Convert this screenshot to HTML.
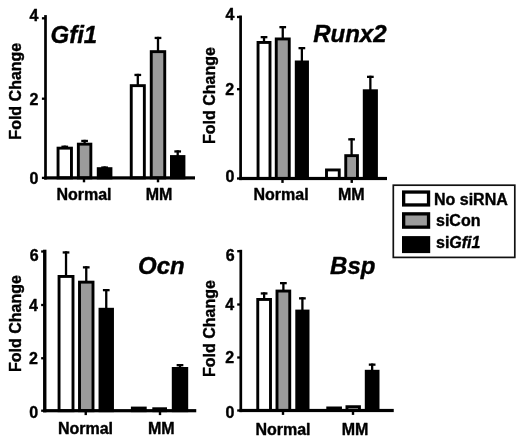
<!DOCTYPE html>
<html><head><meta charset="utf-8"><title>Fold change</title>
<style>
html,body{margin:0;padding:0;background:#fff;}
body{width:520px;height:436px;overflow:hidden;}
svg{display:block;filter:grayscale(1) blur(0.35px);}
text{font-family:"Liberation Sans",sans-serif;font-weight:bold;fill:#000;stroke:#000;stroke-width:0.4px;stroke-linejoin:round;}
.tk{font-size:16px;}
.xl{font-size:16px;}
.yl{font-size:16px;}
.tt{font-size:24px;font-style:italic;}
.lg{font-size:16px;}
</style></head><body>
<svg width="520" height="436" viewBox="0 0 520 436">
<rect x="0" y="0" width="520" height="436" fill="#fff"/>
<line x1="64.75" y1="145.60" x2="64.75" y2="147.70" stroke="#000" stroke-width="2.3"/><line x1="61.40" y1="146.75" x2="68.10" y2="146.75" stroke="#000" stroke-width="2.3"/><rect x="58.05" y="148.15" width="13.40" height="29.75" fill="#fff" stroke="#000" stroke-width="2.9"/>
<line x1="84.60" y1="139.80" x2="84.60" y2="143.70" stroke="#000" stroke-width="2.3"/><line x1="81.25" y1="140.95" x2="87.95" y2="140.95" stroke="#000" stroke-width="2.3"/><rect x="78.35" y="144.15" width="12.50" height="33.75" fill="#9b9b9b" stroke="#000" stroke-width="2.9"/>
<line x1="104.60" y1="166.40" x2="104.60" y2="168.20" stroke="#000" stroke-width="2.3"/><line x1="101.25" y1="167.55" x2="107.95" y2="167.55" stroke="#000" stroke-width="2.3"/><rect x="98.25" y="168.65" width="12.70" height="9.25" fill="#000" stroke="#000" stroke-width="2.9"/>
<line x1="137.80" y1="73.80" x2="137.80" y2="85.20" stroke="#000" stroke-width="2.3"/><line x1="134.45" y1="74.95" x2="141.15" y2="74.95" stroke="#000" stroke-width="2.3"/><rect x="131.25" y="85.65" width="13.10" height="92.25" fill="#fff" stroke="#000" stroke-width="2.9"/>
<line x1="158.00" y1="36.80" x2="158.00" y2="51.20" stroke="#000" stroke-width="2.3"/><line x1="154.65" y1="37.95" x2="161.35" y2="37.95" stroke="#000" stroke-width="2.3"/><rect x="151.25" y="51.65" width="13.50" height="126.25" fill="#9b9b9b" stroke="#000" stroke-width="2.9"/>
<line x1="177.70" y1="150.30" x2="177.70" y2="156.10" stroke="#000" stroke-width="2.3"/><line x1="174.35" y1="151.45" x2="181.05" y2="151.45" stroke="#000" stroke-width="2.3"/><rect x="171.45" y="156.55" width="12.50" height="21.35" fill="#000" stroke="#000" stroke-width="2.9"/>
<rect x="44.15" y="15.10" width="2.7" height="164.40" fill="#000"/>
<rect x="44.15" y="176.30" width="150.85" height="3.2" fill="#000"/>
<rect x="41.90" y="17.15" width="3.4" height="2.3" fill="#000"/><text x="38.40" y="20.80" text-anchor="end" class="tk">4</text>
<rect x="41.90" y="97.55" width="3.4" height="2.3" fill="#000"/><text x="38.40" y="104.70" text-anchor="end" class="tk">2</text>
<rect x="41.90" y="176.75" width="3.4" height="2.3" fill="#000"/><text x="38.40" y="183.60" text-anchor="end" class="tk">0</text>
<rect x="82.80" y="177.90" width="2.4" height="4.4" fill="#000"/><text x="84.00" y="199.50" text-anchor="middle" class="xl">Normal</text>
<rect x="156.80" y="177.90" width="2.4" height="4.4" fill="#000"/><text x="159.00" y="199.50" text-anchor="middle" class="xl">MM</text>
<text transform="translate(20.60,91.20) rotate(-90)" text-anchor="middle" class="yl">Fold Change</text>
<text x="50.50" y="42.50" class="tt">Gfi1</text>
<line x1="264.02" y1="36.00" x2="264.02" y2="42.00" stroke="#000" stroke-width="2.3"/><line x1="260.67" y1="37.15" x2="267.38" y2="37.15" stroke="#000" stroke-width="2.3"/><rect x="258.05" y="42.45" width="11.95" height="136.05" fill="#fff" stroke="#000" stroke-width="2.9"/>
<line x1="282.75" y1="26.00" x2="282.75" y2="38.50" stroke="#000" stroke-width="2.3"/><line x1="279.40" y1="27.15" x2="286.10" y2="27.15" stroke="#000" stroke-width="2.3"/><rect x="276.25" y="38.95" width="13.00" height="139.55" fill="#9b9b9b" stroke="#000" stroke-width="2.9"/>
<line x1="301.88" y1="47.00" x2="301.88" y2="61.50" stroke="#000" stroke-width="2.3"/><line x1="298.52" y1="48.15" x2="305.23" y2="48.15" stroke="#000" stroke-width="2.3"/><rect x="296.25" y="61.95" width="11.25" height="116.55" fill="#000" stroke="#000" stroke-width="2.9"/>
<rect x="326.50" y="169.95" width="12.75" height="8.55" fill="#fff" stroke="#000" stroke-width="2.9"/>
<line x1="351.60" y1="138.20" x2="351.60" y2="155.20" stroke="#000" stroke-width="2.3"/><line x1="348.25" y1="139.35" x2="354.95" y2="139.35" stroke="#000" stroke-width="2.3"/><rect x="345.75" y="155.65" width="11.70" height="22.85" fill="#9b9b9b" stroke="#000" stroke-width="2.9"/>
<line x1="370.35" y1="75.70" x2="370.35" y2="90.30" stroke="#000" stroke-width="2.3"/><line x1="367.00" y1="76.85" x2="373.70" y2="76.85" stroke="#000" stroke-width="2.3"/><rect x="364.25" y="90.75" width="12.20" height="87.75" fill="#000" stroke="#000" stroke-width="2.9"/>
<rect x="239.25" y="15.50" width="2.7" height="164.60" fill="#000"/>
<rect x="239.25" y="176.90" width="147.75" height="3.2" fill="#000"/>
<rect x="237.00" y="15.85" width="3.4" height="2.3" fill="#000"/><text x="234.50" y="20.10" text-anchor="end" class="tk">4</text>
<rect x="237.00" y="88.05" width="3.4" height="2.3" fill="#000"/><text x="234.20" y="95.40" text-anchor="end" class="tk">2</text>
<rect x="237.00" y="177.35" width="3.4" height="2.3" fill="#000"/><text x="234.50" y="182.10" text-anchor="end" class="tk">0</text>
<rect x="281.30" y="178.50" width="2.4" height="4.4" fill="#000"/><text x="281.10" y="199.50" text-anchor="middle" class="xl">Normal</text>
<rect x="350.55" y="178.50" width="2.4" height="4.4" fill="#000"/><text x="351.25" y="199.50" text-anchor="middle" class="xl">MM</text>
<text transform="translate(215.30,95.50) rotate(-90)" text-anchor="middle" class="yl">Fold Change</text>
<text x="313.20" y="41.70" class="tt">Runx2</text>
<line x1="66.03" y1="251.30" x2="66.03" y2="276.00" stroke="#000" stroke-width="2.3"/><line x1="62.68" y1="252.45" x2="69.38" y2="252.45" stroke="#000" stroke-width="2.3"/><rect x="59.05" y="276.45" width="13.95" height="134.25" fill="#fff" stroke="#000" stroke-width="2.9"/>
<line x1="86.25" y1="266.20" x2="86.25" y2="281.70" stroke="#000" stroke-width="2.3"/><line x1="82.90" y1="267.35" x2="89.60" y2="267.35" stroke="#000" stroke-width="2.3"/><rect x="79.50" y="282.15" width="13.50" height="128.55" fill="#9b9b9b" stroke="#000" stroke-width="2.9"/>
<line x1="106.25" y1="289.00" x2="106.25" y2="308.80" stroke="#000" stroke-width="2.3"/><line x1="102.90" y1="290.15" x2="109.60" y2="290.15" stroke="#000" stroke-width="2.3"/><rect x="100.00" y="309.25" width="12.50" height="101.45" fill="#000" stroke="#000" stroke-width="2.9"/>
<rect x="132.35" y="408.05" width="12.90" height="2.65" fill="#fff" stroke="#000" stroke-width="2.9"/>
<rect x="153.75" y="408.75" width="11.80" height="1.95" fill="#9b9b9b" stroke="#000" stroke-width="2.9"/>
<line x1="180.00" y1="364.00" x2="180.00" y2="368.00" stroke="#000" stroke-width="2.3"/><line x1="176.65" y1="365.15" x2="183.35" y2="365.15" stroke="#000" stroke-width="2.3"/><rect x="173.25" y="368.45" width="13.50" height="42.25" fill="#000" stroke="#000" stroke-width="2.9"/>
<rect x="43.05" y="249.70" width="3.4" height="162.60" fill="#000"/>
<rect x="43.05" y="409.10" width="153.20" height="3.2" fill="#000"/>
<rect x="41.15" y="250.35" width="3.4" height="2.3" fill="#000"/><text x="38.75" y="261.20" text-anchor="end" class="tk">6</text>
<rect x="41.15" y="303.85" width="3.4" height="2.3" fill="#000"/><text x="37.95" y="310.70" text-anchor="end" class="tk">4</text>
<rect x="41.15" y="357.10" width="3.4" height="2.3" fill="#000"/><text x="37.95" y="363.95" text-anchor="end" class="tk">2</text>
<rect x="41.15" y="409.55" width="3.4" height="2.3" fill="#000"/><text x="38.15" y="418.20" text-anchor="end" class="tk">0</text>
<rect x="84.55" y="410.70" width="2.4" height="4.4" fill="#000"/><text x="85.50" y="434.40" text-anchor="middle" class="xl">Normal</text>
<rect x="158.80" y="410.70" width="2.4" height="4.4" fill="#000"/><text x="161.25" y="434.40" text-anchor="middle" class="xl">MM</text>
<text transform="translate(20.60,323.60) rotate(-90)" text-anchor="middle" class="yl">Fold Change</text>
<text x="138.00" y="273.75" class="tt">Ocn</text>
<line x1="264.12" y1="292.30" x2="264.12" y2="299.00" stroke="#000" stroke-width="2.3"/><line x1="260.77" y1="293.45" x2="267.48" y2="293.45" stroke="#000" stroke-width="2.3"/><rect x="257.75" y="299.45" width="12.75" height="111.05" fill="#fff" stroke="#000" stroke-width="2.9"/>
<line x1="283.38" y1="282.00" x2="283.38" y2="290.60" stroke="#000" stroke-width="2.3"/><line x1="280.02" y1="283.15" x2="286.73" y2="283.15" stroke="#000" stroke-width="2.3"/><rect x="277.00" y="291.05" width="12.75" height="119.45" fill="#9b9b9b" stroke="#000" stroke-width="2.9"/>
<line x1="302.40" y1="297.20" x2="302.40" y2="310.60" stroke="#000" stroke-width="2.3"/><line x1="299.05" y1="298.35" x2="305.75" y2="298.35" stroke="#000" stroke-width="2.3"/><rect x="296.75" y="311.05" width="11.30" height="99.45" fill="#000" stroke="#000" stroke-width="2.9"/>
<rect x="327.75" y="407.95" width="12.75" height="2.55" fill="#fff" stroke="#000" stroke-width="2.9"/>
<rect x="346.95" y="406.70" width="12.50" height="3.80" fill="#9b9b9b" stroke="#000" stroke-width="2.9"/>
<line x1="372.15" y1="363.50" x2="372.15" y2="370.80" stroke="#000" stroke-width="2.3"/><line x1="368.80" y1="364.65" x2="375.50" y2="364.65" stroke="#000" stroke-width="2.3"/><rect x="366.25" y="371.25" width="11.80" height="39.25" fill="#000" stroke="#000" stroke-width="2.9"/>
<rect x="239.45" y="249.80" width="2.7" height="162.30" fill="#000"/>
<rect x="239.45" y="408.90" width="154.30" height="3.2" fill="#000"/>
<rect x="237.20" y="250.05" width="3.4" height="2.3" fill="#000"/><text x="234.60" y="260.50" text-anchor="end" class="tk">6</text>
<rect x="237.20" y="303.35" width="3.4" height="2.3" fill="#000"/><text x="234.10" y="310.20" text-anchor="end" class="tk">4</text>
<rect x="237.20" y="356.35" width="3.4" height="2.3" fill="#000"/><text x="234.10" y="363.20" text-anchor="end" class="tk">2</text>
<rect x="237.20" y="409.35" width="3.4" height="2.3" fill="#000"/><text x="234.30" y="417.50" text-anchor="end" class="tk">0</text>
<rect x="281.80" y="410.50" width="2.4" height="4.4" fill="#000"/><text x="283.00" y="434.80" text-anchor="middle" class="xl">Normal</text>
<rect x="351.80" y="410.50" width="2.4" height="4.4" fill="#000"/><text x="355.00" y="434.80" text-anchor="middle" class="xl">MM</text>
<text transform="translate(214.80,328.50) rotate(-90)" text-anchor="middle" class="yl">Fold Change</text>
<text x="330.10" y="274.00" class="tt">Bsp</text>
<rect x="393.3" y="185.2" width="121.5" height="72.2" fill="#fff" stroke="#111" stroke-width="1.7"/>
<rect x="403.65" y="192.05" width="24.90" height="12.90" fill="#fff" stroke="#000" stroke-width="3.3"/>
<rect x="403.65" y="213.85" width="24.90" height="13.30" fill="#9b9b9b" stroke="#000" stroke-width="3.3"/>
<rect x="403.65" y="237.75" width="24.90" height="13.70" fill="#000" stroke="#000" stroke-width="3.3"/>
<text x="434" y="204.7" class="lg">No siRNA</text>
<text x="436" y="226.2" class="lg">siCon</text>
<text x="436" y="248.0" class="lg">si<tspan font-style="italic">Gfi1</tspan></text>
</svg>
</body></html>
